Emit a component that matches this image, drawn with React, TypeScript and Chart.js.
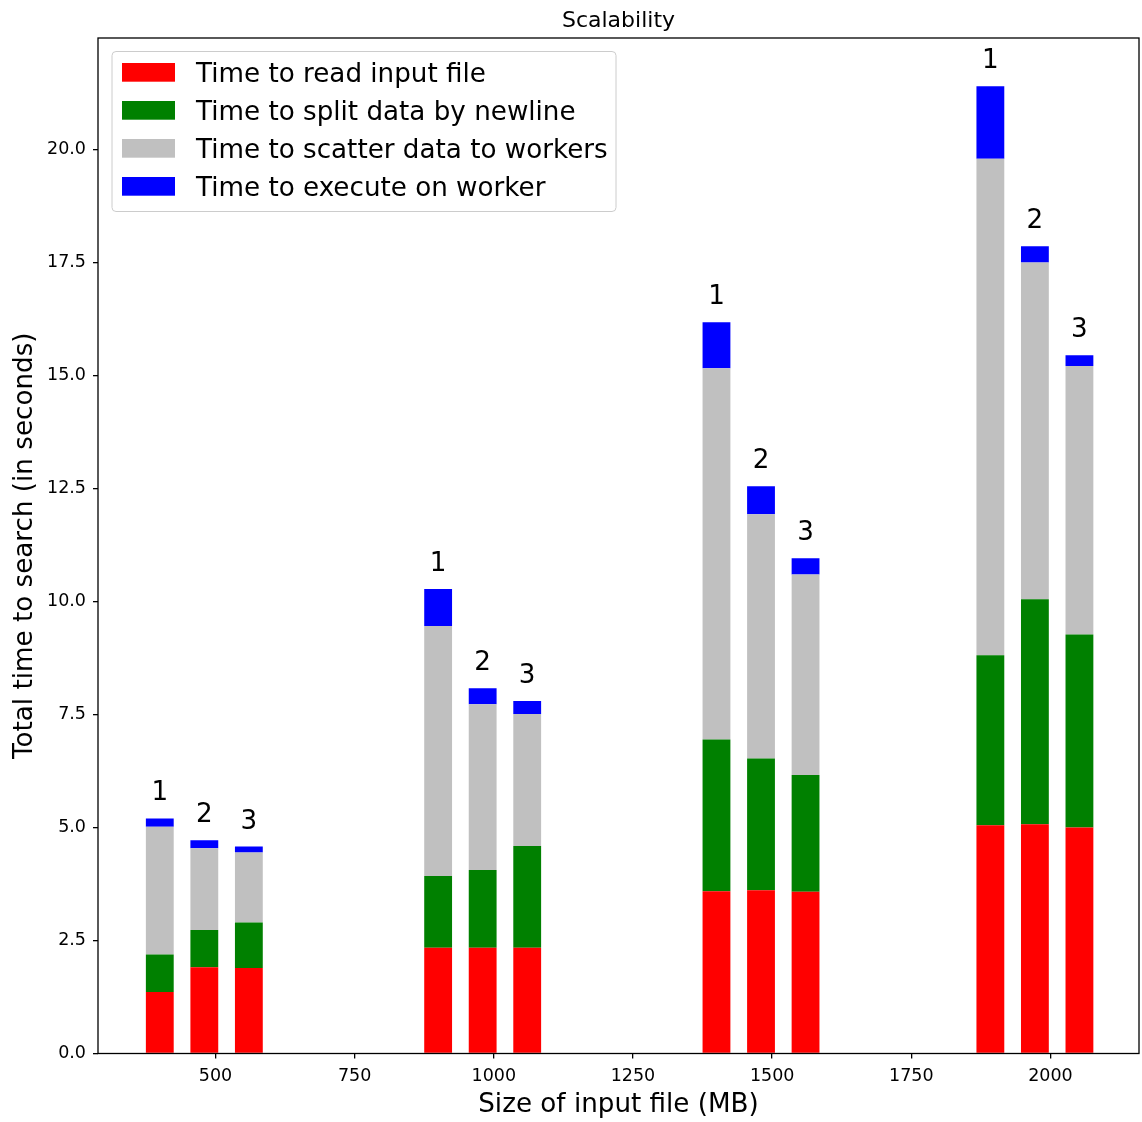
import React, { useEffect, useRef } from 'react';
import { Chart, registerables } from 'chart.js';

Chart.register(...registerables);

// ---- data ----
const fileSizes = [400, 480, 560, 900, 980, 1060, 1400, 1480, 1560, 1892, 1972, 2052];
const barLabels = ['1', '2', '3', '1', '2', '3', '1', '2', '3', '1', '2', '3'];
const readTime = [1.36, 1.91, 1.89, 2.34, 2.34, 2.34, 3.59, 3.61, 3.58, 5.05, 5.07, 5.0];
const splitTime = [0.83, 0.82, 1.01, 1.59, 1.72, 2.25, 3.36, 2.92, 2.58, 3.76, 4.98, 4.27];
const scatterTime = [2.83, 1.81, 1.55, 5.53, 3.67, 2.92, 8.21, 5.4, 4.44, 10.99, 7.45, 5.94];
const executeTime = [0.18, 0.18, 0.13, 0.82, 0.35, 0.29, 1.02, 0.62, 0.36, 1.6, 0.36, 0.24];
const seriesNames = [
  'Time to read input file',
  'Time to split data by newline',
  'Time to scatter data to workers',
  'Time to execute on worker',
];
const seriesColors = ['#ff0000', '#008000', '#c0c0c0', '#0000ff'];
const xTicks = [500, 750, 1000, 1250, 1500, 1750, 2000];
const yTicks = [0, 2.5, 5, 7.5, 10, 12.5, 15, 17.5, 20];
const chartTitle = 'Scalability';
const xTitle = 'Size of input file (MB)';
const yTitle = 'Total time to search (in seconds)';

const FONT = '"DejaVu Sans", sans-serif';

const overlayPlugin = {
  id: 'overlay',
  afterDraw(chart: any) {
    const { ctx, chartArea } = chart;
    const { left, right, top, bottom } = chartArea;
    const xs = chart.scales.x;
    const ys = chart.scales.y;
    ctx.save();

    // frame
    ctx.strokeStyle = '#000';
    ctx.lineWidth = 1.3;
    ctx.strokeRect(left, top, right - left, bottom - top);

    // title
    ctx.fillStyle = '#000';
    ctx.textAlign = 'center';
    ctx.textBaseline = 'alphabetic';
    ctx.font = `22px ${FONT}`;
    ctx.fillText(chartTitle, (left + right) / 2, top - 10.8);

    // axis titles
    ctx.font = `26.2px ${FONT}`;
    ctx.fillText(xTitle, (left + right) / 2, 1111.5);
    ctx.save();
    ctx.translate(31.5, (top + bottom) / 2);
    ctx.rotate(-Math.PI / 2);
    ctx.fillText(yTitle, 0, 0);
    ctx.restore();

    // bar labels
    ctx.font = `26.2px ${FONT}`;
    fileSizes.forEach((x, i) => {
      const total = readTime[i] + splitTime[i] + scatterTime[i] + executeTime[i];
      ctx.fillText(barLabels[i], xs.getPixelForValue(x), ys.getPixelForValue(total) - 18);
    });

    // legend
    const lx = left + 14;
    const ly = top + 13.5;
    const lw = 504;
    const lh = 160;
    const r = 4;
    ctx.beginPath();
    ctx.moveTo(lx + r, ly);
    ctx.lineTo(lx + lw - r, ly);
    ctx.quadraticCurveTo(lx + lw, ly, lx + lw, ly + r);
    ctx.lineTo(lx + lw, ly + lh - r);
    ctx.quadraticCurveTo(lx + lw, ly + lh, lx + lw - r, ly + lh);
    ctx.lineTo(lx + r, ly + lh);
    ctx.quadraticCurveTo(lx, ly + lh, lx, ly + lh - r);
    ctx.lineTo(lx, ly + r);
    ctx.quadraticCurveTo(lx, ly, lx + r, ly);
    ctx.closePath();
    ctx.fillStyle = 'rgba(255,255,255,0.8)';
    ctx.fill();
    ctx.strokeStyle = '#cccccc';
    ctx.lineWidth = 1;
    ctx.stroke();

    ctx.textAlign = 'left';
    chart.data.datasets.forEach((ds: any, i: number) => {
      ctx.fillStyle = ds.backgroundColor;
      ctx.fillRect(lx + 10, ly + 11.5 + 38 * i, 53, 18.7);
      ctx.fillStyle = '#000';
      ctx.fillText(ds.label, lx + 84, ly + 30.2 + 38 * i);
    });

    ctx.restore();
  },
};

export default function App() {
  const canvasRef = useRef<HTMLCanvasElement | null>(null);

  useEffect(() => {
    const canvas = canvasRef.current;
    if (!canvas) return;
    const series = [readTime, splitTime, scatterTime, executeTime];
    const chart = new Chart(canvas, {
      type: 'bar',
      data: {
        datasets: series.map((vals, s) => ({
          label: seriesNames[s],
          data: fileSizes.map((x, i) => ({ x, y: vals[i] })),
          backgroundColor: seriesColors[s],
          borderWidth: 0,
          barPercentage: 0.625,
          categoryPercentage: 1,
        })),
      },
      options: {
        responsive: false,
        animation: false,
        devicePixelRatio: 1,
        layout: { padding: { top: 38, right: 3, left: 0, bottom: 0 } },
        plugins: {
          legend: { display: false },
          title: { display: false },
          tooltip: { enabled: false },
        },
        scales: {
          x: {
            type: 'linear',
            stacked: true,
            offset: false,
            min: 289,
            max: 2159,
            afterBuildTicks: (axis: any) => {
              axis.ticks = xTicks.map((v) => ({ value: v }));
            },
            afterFit: (axis: any) => {
              axis.height = 68.5;
            },
            border: { display: false },
            grid: {
              offset: false,
              display: true,
              drawOnChartArea: false,
              drawTicks: true,
              tickLength: 5,
              color: '#000',
              lineWidth: 1.3,
            },
            ticks: {
              color: '#000',
              font: { family: FONT, size: 17.5 },
              padding: 7,
              maxRotation: 0,
              autoSkip: false,
              callback: (v: any) => String(v),
            },
          },
          y: {
            type: 'linear',
            stacked: true,
            min: 0,
            max: 22.47,
            afterBuildTicks: (axis: any) => {
              axis.ticks = yTicks.map((v) => ({ value: v }));
            },
            afterFit: (axis: any) => {
              axis.width = 98;
            },
            border: { display: false },
            grid: {
              display: true,
              drawOnChartArea: false,
              drawTicks: true,
              tickLength: 5,
              color: '#000',
              lineWidth: 1.3,
            },
            ticks: {
              color: '#000',
              font: { family: FONT, size: 17.5 },
              padding: 7,
              autoSkip: false,
              callback: (v: any) => Number(v).toFixed(1),
            },
          },
        },
      },
      plugins: [overlayPlugin],
    } as any);
    return () => chart.destroy();
  }, []);

  return (
    <div style={{ position: 'fixed', left: 0, top: 0, width: 1142, height: 1122, background: '#fff' }}>
      <canvas ref={canvasRef} width={1142} height={1122} style={{ display: 'block' }} />
    </div>
  );
}
